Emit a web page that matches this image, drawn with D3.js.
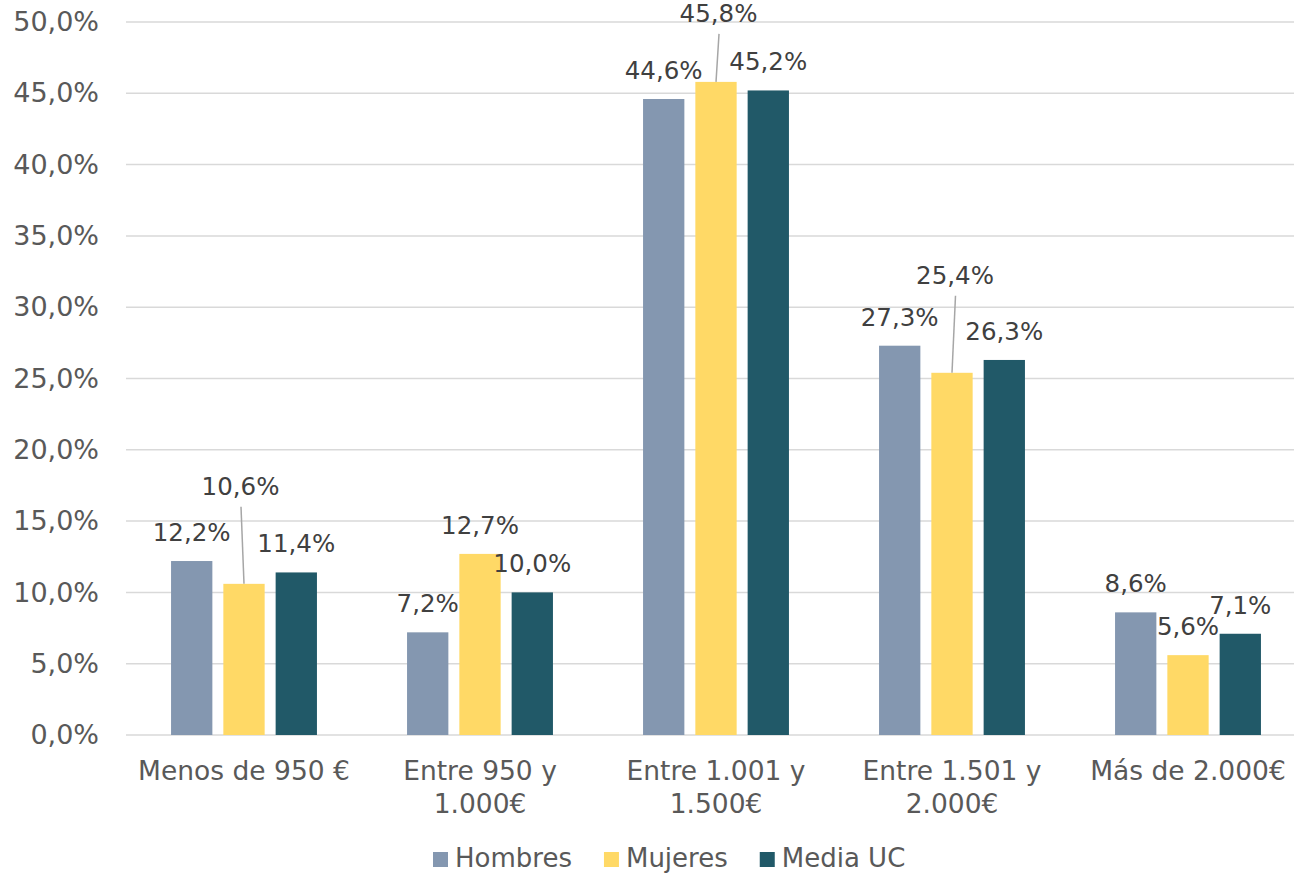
<!DOCTYPE html>
<html>
<head>
<meta charset="utf-8">
<script src="https://cdn.jsdelivr.net/npm/d3@7"></script>
<style>
  html, body { margin: 0; padding: 0; background: #ffffff; }
  svg { display: block; font-family: "DejaVu Sans", Verdana, sans-serif; }
</style>
</head>
<body>
<svg id="chart" width="1294" height="874"></svg>
<script>
// ---- Data ----
const categories = [
  ["Menos de 950 €"],
  ["Entre 950 y", "1.000€"],
  ["Entre 1.001 y", "1.500€"],
  ["Entre 1.501 y", "2.000€"],
  ["Más de 2.000€"]
];
const seriesNames = ["Hombres", "Mujeres", "Media UC"];
const hombres = [12.2, 7.2, 44.6, 27.3, 8.6];
const mujeres = [10.6, 12.7, 45.8, 25.4, 5.6];
const mediaUC = [11.4, 10.0, 45.2, 26.3, 7.1];
const yTicks = [0, 5, 10, 15, 20, 25, 30, 35, 40, 45, 50];

// ---- Style ----
const colors = ["#8497B0", "#FFD966", "#215968"];
const seriesValues = [hombres, mujeres, mediaUC];
// manually moved data labels (series index, category index) -> pixel shift, with leader line
const movedLabels = [
  { s: 1, c: 0, dx: -3.5, dy: -69 },
  { s: 1, c: 2, dx: 2.5, dy: -40 },
  { s: 1, c: 3, dx: 3, dy: -69 }
];

const svg = d3.select("#chart");
const plot = { left: 126, right: 1306, top: 22, bottom: 735 };

const loc = d3.formatLocale({ decimal: ",", thousands: ".", grouping: [3], currency: ["", "€"] });
const fmtTick = v => loc.format(".1f")(v) + "%";
const fmtLabel = v => loc.format(".1f")(v) + "%";

const x0 = d3.scaleBand().domain(d3.range(categories.length)).range([plot.left, plot.right]).paddingInner(0).paddingOuter(0);
const groupW = 145.9;
const x1 = d3.scaleBand().domain(d3.range(seriesNames.length)).range([0, groupW]).paddingInner(0.21).paddingOuter(0);
const y = d3.scaleLinear().domain([0, 50]).range([plot.bottom, plot.top]);
const groupOffset = (x0.bandwidth() - groupW) / 2;

// gridlines
svg.append("g").selectAll("line").data(yTicks).join("line")
  .attr("x1", plot.left).attr("x2", 1294)
  .attr("y1", d => y(d)).attr("y2", d => y(d))
  .attr("stroke", "#d9d9d9").attr("stroke-width", 1.5);

// y axis labels via d3 axis
const yAxis = d3.axisLeft(y).tickValues(yTicks).tickFormat(fmtTick).tickSize(0).tickPadding(27);
const gy = svg.append("g").attr("transform", `translate(${plot.left},0)`).call(yAxis);
gy.select(".domain").remove();
gy.selectAll("text").attr("font-size", 27).attr("fill", "#595959")
  .attr("font-family", "DejaVu Sans, Verdana, sans-serif");

// bars
const flat = [];
seriesValues.forEach((arr, s) => arr.forEach((v, c) => flat.push({ s, c, v })));
const barX = d => x0(d.c) + groupOffset + x1(d.s);

svg.append("g").selectAll("rect").data(flat).join("rect")
  .attr("x", barX)
  .attr("y", d => y(d.v))
  .attr("width", x1.bandwidth())
  .attr("height", d => y(0) - y(d.v))
  .attr("fill", d => colors[d.s]);

// data labels
const lblG = svg.append("g");
flat.forEach(d => {
  const cx = barX(d) + x1.bandwidth() / 2;
  const top = y(d.v);
  const m = movedLabels.find(o => o.s === d.s && o.c === d.c);
  const dx = m ? m.dx : 0, dy = m ? m.dy : 0;
  const tx = cx + dx, base = top - 20 + dy;
  if (m) {
    lblG.append("line")
      .attr("x1", tx + 0.5).attr("y1", base + 12)
      .attr("x2", cx).attr("y2", top)
      .attr("stroke", "#a6a6a6").attr("stroke-width", 1.5);
  }
  lblG.append("text")
    .attr("x", tx).attr("y", base)
    .attr("text-anchor", "middle")
    .attr("font-size", 24.5).attr("fill", "#404040")
    .text(fmtLabel(d.v));
});

// category labels
const catG = svg.append("g");
categories.forEach((lines, c) => {
  const cx = x0(c) + x0.bandwidth() / 2;
  const t = catG.append("text").attr("text-anchor", "middle")
    .attr("font-size", 26.5).attr("fill", "#595959");
  lines.forEach((ln, i) => {
    t.append("tspan").attr("x", cx).attr("y", 780 + i * 32.5).text(ln);
  });
});

// legend
const leg = svg.append("g");
let lx = 433;
seriesNames.forEach((name, i) => {
  leg.append("rect").attr("x", lx).attr("y", 852).attr("width", 15).attr("height", 15).attr("fill", colors[i]);
  const t = leg.append("text").attr("x", lx + 22).attr("y", 867)
    .attr("font-size", 26).attr("fill", "#595959").text(name);
  lx += 22 + t.node().getComputedTextLength() + 32;
});
</script>
</body>
</html>
